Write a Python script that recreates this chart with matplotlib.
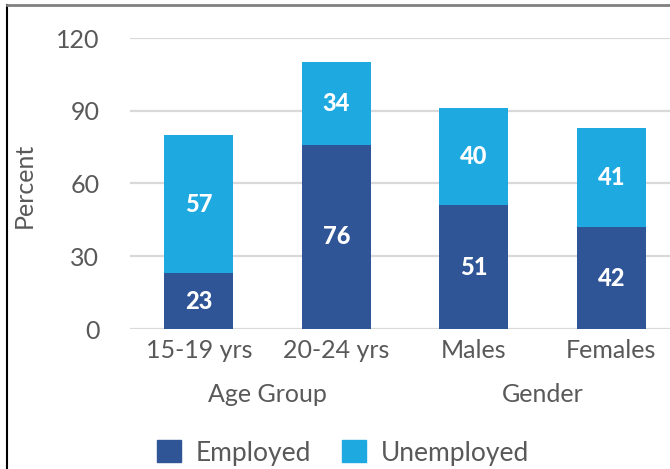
import matplotlib
matplotlib.use("Agg")
import matplotlib.pyplot as plt
from matplotlib.lines import Line2D
from matplotlib.patches import Patch

plt.rcParams['font.family'] = ['Lato', 'DejaVu Sans']

## the data
categories = ['15-19 yrs', '20-24 yrs', 'Males', 'Females']
groups = ['Age Group', 'Gender']
employed = [23, 76, 51, 42]
unemployed = [57, 34, 40, 41]

dark = '#2F5597'
light = '#1FA9E1'
grey = '#595959'

fig = plt.figure(figsize=(6.7, 4.69), dpi=100)
ax = fig.add_axes([130/670, 140/469, 550/670, 291/469])

x = range(len(categories))
b1 = ax.bar(x, employed, 0.5, color=dark, zorder=3)
b2 = ax.bar(x, unemployed, 0.5, bottom=employed, color=light, zorder=3)

# value labels in the middle of each segment
for i in x:
    ax.text(i, employed[i] / 2, str(employed[i]), ha='center', va='center',
            color='white', fontsize=17, fontweight='black', zorder=4)
    ax.text(i, employed[i] + unemployed[i] / 2, str(unemployed[i]),
            ha='center', va='center', color='white', fontsize=17,
            fontweight='black', zorder=4)

ax.set_xlim(-0.5, 3.5)
ax.set_ylim(0, 120)
ax.set_yticks([0, 30, 60, 90, 120])
ax.yaxis.grid(True, color='#D9D9D9', linewidth=1.6, zorder=0)
ax.set_axisbelow(True)
for s in ax.spines.values():
    s.set_visible(False)
ax.tick_params(axis='y', length=0, pad=22, labelsize=18, labelcolor=grey)
ax.set_xticks(list(x))
ax.set_xticklabels(categories)
ax.tick_params(axis='x', length=0, pad=7, labelsize=18, labelcolor=grey)
ax.set_ylabel('Percent', fontsize=18, color=grey)
ax.yaxis.set_label_coords(-0.172, 0.495)

# group labels under the categories
tr = ax.get_xaxis_transform()
ax.text(0.5, -0.225, groups[0], transform=tr, ha='center', va='center',
        fontsize=18, color=grey)
ax.text(2.5, -0.225, groups[1], transform=tr, ha='center', va='center',
        fontsize=18, color=grey)

## add a legend
handles = [Patch(color=dark), Patch(color=light)]
fig.legend(handles, ['Employed', 'Unemployed'], loc='center',
           bbox_to_anchor=(343/670, 1 - 453/469), ncol=2, frameon=False,
           fontsize=19, labelcolor=grey, handlelength=0.9, handleheight=0.9,
           columnspacing=1.2, handletextpad=0.55)

# border of the original picture
fig.add_artist(Line2D([7/670, 7/670], [0, 1 - 5/469], color='black',
                      linewidth=1.5))
fig.add_artist(Line2D([7/670, 1], [1 - 5/469, 1 - 5/469], color='#808080',
                      linewidth=2))

fig.savefig('out.png', dpi=100)
